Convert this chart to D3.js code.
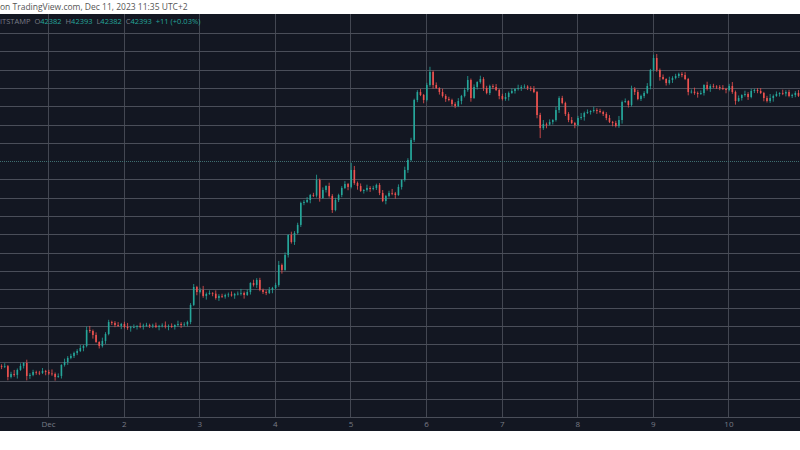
<!DOCTYPE html>
<html><head><meta charset="utf-8">
<script src="https://cdn.jsdelivr.net/npm/d3@7"></script>
<style>body{margin:0;background:#fff;}svg{display:block;}</style>
</head><body>
<svg id="c" width="800" height="450"></svg>
<script>
// hourly closes, BTC/USD (Bitstamp)
const closes = [
38689,38700,38552,38593,38580,38648,38703,38743,38566,38580,38620,38610,38607,38634,38620,38600,38593,38552,38566,38716,
38757,38812,38839,38880,38907,38948,38976,39194,39180,39126,39030,38976,39044,39139,39303,39290,39262,39250,39276,39235,
39221,39230,39235,39249,39240,39255,39262,39249,39255,39235,39249,39255,39240,39249,39235,39262,39276,39262,39270,39303,
39536,39782,39713,39741,39659,39686,39700,39690,39631,39659,39650,39672,39680,39665,39686,39690,39700,39672,39713,39836,
39809,39877,39741,39713,39700,39741,39768,39809,40082,40014,40219,40492,40396,40519,40629,40929,40943,40970,41038,41030,
41243,40997,41107,41161,41025,40833,40970,41038,41134,41188,41148,41380,41202,41161,41093,41107,41134,41120,41134,41175,
41066,40956,41025,41066,41060,41038,41148,41243,41380,41516,41790,42336,42445,42404,42336,42541,42719,42541,42500,42445,
42391,42350,42336,42281,42254,42322,42391,42473,42609,42363,42514,42582,42623,42500,42432,42527,42514,42473,42391,42350,
42377,42432,42459,42487,42500,42514,42520,42500,42487,42445,42131,41953,42008,42000,42036,42063,42199,42363,42295,42145,
42063,42022,41995,42090,42104,42158,42172,42186,42199,42186,42172,42145,42090,42036,42022,41981,42063,42309,42322,42268,
42487,42445,42350,42391,42432,42527,42746,42910,42746,42650,42623,42568,42609,42636,42664,42692,42677,42623,42445,42450,
42432,42418,42432,42541,42487,42527,42520,42514,42500,42487,42473,42527,42445,42322,42363,42404,42418,42377,42459,42473,
42459,42432,42363,42322,42363,42391,42418,42432,42425,42445,42391,42404,42432,42393
];
const firstOpen = 38700;
const wickUp = [25,40,15,30,55,20,35,10,45,25,30,18];
const wickDown = [30,15,45,20,25,50,12,35,22,40,18,28];
const spikes = [[8,38650,38505],[27,39240,38970],[100,41315,41030],[111,41478,41140],[136,42790,42530],[148,42640,42470],[171,42150,41815],[207,42955,42740]];
const dayLabels = ["Dec","2","3","4","5","6","7","8","9","10"];
const priceGrid = [43250,43000,42750,42500,42250,42000,41750,41500,41250,41000,40750,40500,40250,40000,39750,39500,39250,39000,38750,38500,38250];

const t0 = new Date(2023,10,30,8,44);
const candles = closes.map((c,i)=>{
  const o = i===0?firstOpen:closes[i-1];
  let h = Math.max(o,c)+wickUp[i%wickUp.length];
  let l = Math.min(o,c)-wickDown[i%wickDown.length];
  const s = spikes.find(d=>d[0]===i);
  if(s){h=Math.max(h,s[1]);l=Math.min(l,s[2]);}
  return {t:new Date(+t0+(i+0.5)*3600e3),o,c,h,l};
});

const svg=d3.select("#c");
const pTop=14, plotB=417, axB=431;
svg.append("rect").attr("x",0).attr("y",pTop).attr("width",800).attr("height",axB-pTop).attr("fill","#131722");
const x=d3.scaleTime().domain([t0,new Date(2023,11,10,22,43)]).range([0,800]);
const y=d3.scaleLinear().domain([38005,43511]).range([plotB,pTop]);
const days=dayLabels.map((d,i)=>new Date(2023,11,1+i));
const g=svg.append("g");
g.selectAll(".vg").data(days).join("line").attr("x1",d=>Math.round(x(d))+0.5).attr("x2",d=>Math.round(x(d))+0.5).attr("y1",pTop).attr("y2",plotB).attr("stroke","#434752");
g.selectAll(".hg").data(priceGrid).join("line").attr("x1",0).attr("x2",800).attr("y1",d=>Math.round(y(d))+0.5).attr("y2",d=>Math.round(y(d))+0.5)
 .attr("stroke",d=>d===41500?"#3f6e70":"#4a4e59").attr("stroke-dasharray",d=>d===41500?"1,1":null);
svg.append("line").attr("x1",0).attr("x2",800).attr("y1",plotB+0.5).attr("y2",plotB+0.5).attr("stroke","#4a4e59");
const up="#26a69a", dn="#ef5350";
const cg=svg.append("g");
cg.selectAll(".w").data(candles).join("line").attr("x1",d=>x(d.t)).attr("x2",d=>x(d.t)).attr("y1",d=>y(d.h)).attr("y2",d=>y(d.l))
 .attr("stroke",d=>d.c>=d.o?up:dn).attr("stroke-width",0.8);
cg.selectAll(".b").data(candles).join("rect").attr("x",d=>x(d.t)-0.8).attr("width",1.6)
 .attr("y",d=>y(Math.max(d.o,d.c))).attr("height",d=>Math.max(0.8,Math.abs(y(d.o)-y(d.c))))
 .attr("fill",d=>d.c>=d.o?up:dn);
const ax=svg.append("g").attr("transform",`translate(0,${plotB})`)
 .call(d3.axisBottom(x).tickValues(days).tickSize(0).tickFormat((d,i)=>dayLabels[i]));
ax.select(".domain").remove();
ax.selectAll("text").attr("fill","#787b86").attr("font-size",8).attr("font-family","Open Sans, sans-serif").attr("dy","0.9em");
svg.append("text").attr("x",0).attr("y",10).attr("font-size",8.5).attr("fill","#555").attr("font-family","Open Sans, sans-serif")
 .text("on TradingView.com, Dec 11, 2023 11:35 UTC+2");
const leg=svg.append("text").attr("x",0).attr("y",24).attr("font-size",7.5).attr("font-family","Open Sans, sans-serif");
[["ITSTAMP  ","#787b86"],["O","#787b86"],["42382  ",up],["H","#787b86"],["42393  ",up],["L","#787b86"],["42382  ",up],["C","#787b86"],["42393  ",up],["+11 (+0.03%)",up]]
 .forEach(p=>leg.append("tspan").attr("fill",p[1]).attr("xml:space","preserve").text(p[0]));
</script></body></html>
